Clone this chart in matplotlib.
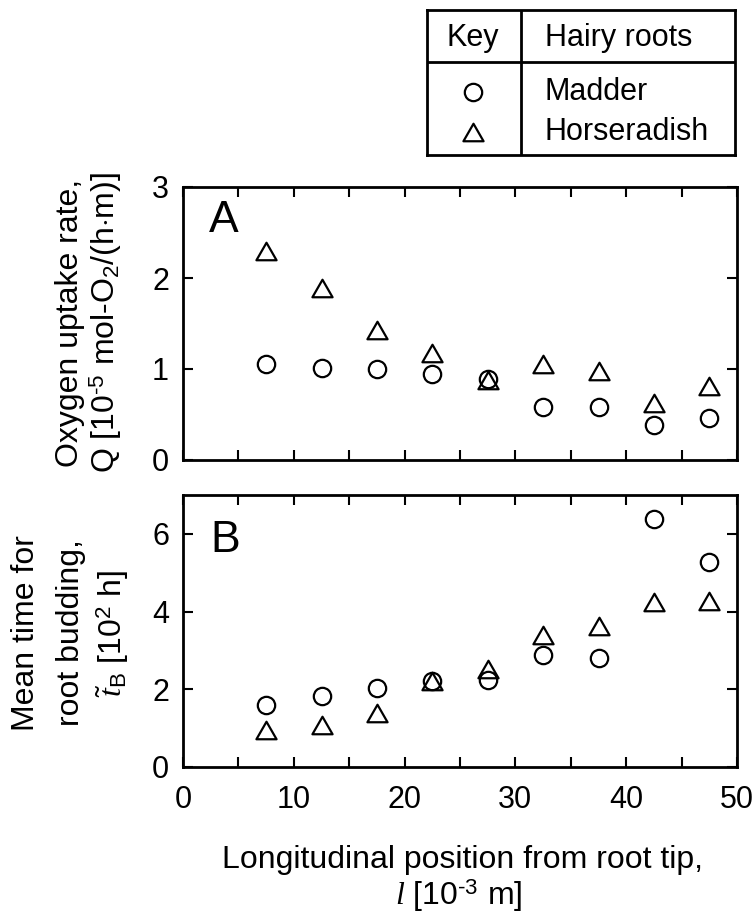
import numpy as np
import matplotlib
matplotlib.use("Agg")
import matplotlib.pyplot as plt
from matplotlib.path import Path
from matplotlib.ticker import MultipleLocator

plt.rcParams['font.family'] = ['Liberation Sans', 'DejaVu Sans']
plt.rcParams['mathtext.fontset'] = 'custom'
plt.rcParams['mathtext.rm'] = 'Liberation Sans'
plt.rcParams['mathtext.it'] = 'Liberation Serif:italic'

# position along the root [1e-3 m]
position = [7.5, 12.5, 17.5, 22.5, 27.5, 32.5, 37.5, 42.5, 47.5]

# A: oxygen uptake rate [1e-5 mol-O2/(h m)]
madder_q = [1.06, 1.01, 1.00, 0.94, 0.89, 0.58, 0.58, 0.38, 0.46]
horse_q = [2.30, 1.89, 1.43, 1.18, 0.88, 1.05, 0.98, 0.63, 0.81]

# B: mean time for root budding [1e2 h]
madder_tb = [1.60, 1.82, 2.04, 2.21, 2.25, 2.87, 2.81, 6.39, 5.28]
horse_tb = [0.96, 1.07, 1.39, 2.21, 2.51, 3.39, 3.63, 4.25, 4.27]

W, H = 756, 914
fig = plt.figure(figsize=(W / 100, H / 100), dpi=100)


def frac(x0, y0, x1, y1):
    # pixel box (top-left origin) -> figure fraction rect
    return [x0 / W, 1 - y1 / H, (x1 - x0) / W, (y1 - y0) / H]


# open triangle, bbox centred on the point
tri = Path([(-1, -0.87), (1, -0.87), (0, 0.87), (0, 0)], closed=True)
circ_kw = dict(ls='none', marker='o', ms=12.5, mfc='white', mec='black', mew=1.6)
tri_kw = dict(ls='none', marker=tri, ms=14.5, mfc='none', mec='black', mew=1.6)

ax_a = fig.add_axes(frac(183, 187, 737, 460))
ax_b = fig.add_axes(frac(183, 495, 737, 767))

ax_a.plot(position, madder_q, **circ_kw)
ax_a.plot(position, horse_q, **tri_kw)
ax_b.plot(position, madder_tb, **circ_kw)
ax_b.plot(position, horse_tb, **tri_kw)

ax_a.set_ylim(0, 3)
ax_a.yaxis.set_major_locator(MultipleLocator(1))
ax_b.set_ylim(0, 7)
ax_b.yaxis.set_major_locator(MultipleLocator(2))

for ax in (ax_a, ax_b):
    ax.set_xlim(0, 50)
    ax.xaxis.set_major_locator(MultipleLocator(10))
    ax.xaxis.set_minor_locator(MultipleLocator(5))
    for s in ax.spines.values():
        s.set_linewidth(2)
    ax.tick_params(which='both', direction='in', top=True, right=True,
                   length=7, width=1.5, labelsize=22)
    ax.tick_params(axis='y', pad=10)
    ax.tick_params(axis='x', pad=13)

ax_a.tick_params(axis='x', labelbottom=False)

ax_a.text(0.046, 0.835, 'A', transform=ax_a.transAxes, fontsize=32)
ax_b.text(0.050, 0.79, 'B', transform=ax_b.transAxes, fontsize=32)

# y labels, one line at a time
ylab = dict(rotation=90, ha='center', va='center', fontsize=23)
fig.text(70 / W, 1 - 323 / H, 'Oxygen uptake rate,', **ylab)
fig.text(106 / W, 1 - 323 / H, r'Q [10$^{\text{-5}}$ mol-O$_2$/(h$\cdot$m)]', **ylab)
fig.text(26 / W, 1 - 633 / H, 'Mean time for', **ylab)
fig.text(71 / W, 1 - 633 / H, 'root budding,', **ylab)
fig.text(113 / W, 1 - 633 / H, r'$\tilde{t}_{\rm B}$ [10$^2$ h]', **ylab)

# x label
fig.text(462 / W, 1 - 868 / H, 'Longitudinal position from root tip,',
         ha='center', va='baseline', fontsize=23)
fig.text(459 / W, 1 - 905 / H, r'$l$ [10$^{\text{-3}}$ m]',
         ha='center', va='baseline', fontsize=23)

# key table
ax_k = fig.add_axes(frac(427, 10, 735, 155))
ax_k.set_xlim(0, 1)
ax_k.set_ylim(0, 1)
ax_k.set_xticks([])
ax_k.set_yticks([])
for s in ax_k.spines.values():
    s.set_linewidth(2)
ax_k.axvline(0.305, color='black', lw=2)
ax_k.axhline(0.641, color='black', lw=2)
ax_k.text(0.149, 0.807, 'Key', ha='center', va='center', fontsize=22)
ax_k.text(0.383, 0.807, 'Hairy roots', ha='left', va='center', fontsize=22)
ax_k.plot([0.149], [0.434], **circ_kw)
ax_k.plot([0.149], [0.159], **tri_kw)
ax_k.text(0.383, 0.434, 'Madder', ha='left', va='center', fontsize=22)
ax_k.text(0.383, 0.159, 'Horseradish', ha='left', va='center', fontsize=22)

fig.savefig('out.png', dpi=100)
